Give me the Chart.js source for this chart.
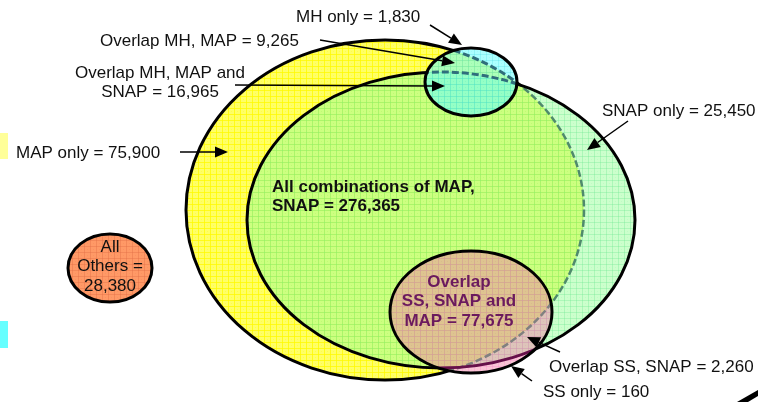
<!DOCTYPE html>
<html>
<head>
<meta charset="utf-8">
<script src="https://cdn.jsdelivr.net/npm/chart.js@4.4.1/dist/chart.umd.min.js"></script>
<style>
  body { margin: 0; background: #fff; }
  canvas { display: block; }
</style>
</head>
<body>
<canvas id="venn" width="758" height="402"></canvas>
<script>
// sets and region counts
var sets = ['MAP', 'SNAP', 'MH', 'SS', 'All Others'];
var regionNames = ['MH only', 'Overlap MH, MAP', 'Overlap MH, MAP and SNAP', 'MAP only', 'SNAP only',
  'All combinations of MAP, SNAP', 'All Others', 'Overlap SS, SNAP and MAP', 'Overlap SS, SNAP', 'SS only'];
var regionCounts = [1830, 9265, 16965, 75900, 25450, 276365, 28380, 77675, 2260, 160];

// layout of the ellipses (data units of the hidden scales)
var shapes = {
  'MAP':        { x: 385, y: 210, rx: 199, ry: 170 },
  'SNAP':       { x: 441, y: 220, rx: 194, ry: 148 },
  'MH':         { x: 471, y: 82,  rx: 46,  ry: 34 },
  'SS':         { x: 471, y: 312, rx: 81,  ry: 61 },
  'All Others': { x: 110, y: 268, rx: 42,  ry: 34 }
};
var looks = {
  'MAP':        { fill: '#ffff66', grid: 'rgba(255,250,0,0.75)' },
  'SNAP':       { fill: 'rgba(153,255,153,0.5)', grid: 'rgba(100,230,140,0.3)' },
  'MH':         { fill: 'rgba(102,255,255,0.55)', grid: 'rgba(60,210,220,0.25)' },
  'SS':         { fill: 'rgba(245,125,165,0.45)', grid: 'rgba(255,100,200,0.2)' },
  'All Others': { fill: '#ff9966', grid: 'rgba(225,110,70,0.4)' }
};
// text placement for each region label: first line centre, alignment, words per line
var labelPos = [
  { x: 296, y: 17,  align: 'left',   lines: [4] },
  { x: 100, y: 41,  align: 'left',   lines: [6] },
  { x: 160, y: 73,  align: 'center', lines: [4, 3] },
  { x: 16,  y: 153, align: 'left',   lines: [5] },
  { x: 602, y: 111, align: 'left',   lines: [5] },
  { x: 272, y: 187, align: 'left',   lines: [4, 3], bold: true },
  { x: 110, y: 247, align: 'center', lines: [1, 2, 1] },
  { x: 459, y: 282, align: 'center', lines: [1, 3, 3], bold: true, color: '#6b1a5e' },
  { x: 549, y: 367, align: 'left',   lines: [6] },
  { x: 543, y: 392, align: 'left',   lines: [5] }
];
var arrows = [
  [430, 25, 462, 45],
  [320, 40, 455, 63],
  [235, 85, 445, 86],
  [180, 152, 228, 152],
  [628, 121, 587, 150],
  null,
  null,
  null,
  [560, 352, 527, 337],
  [532, 381, 511, 366]
];

function gridPattern(color) {
  var c = document.createElement('canvas');
  c.width = 6; c.height = 6;
  var g = c.getContext('2d');
  g.fillStyle = color;
  g.fillRect(0, 0, 6, 1);
  g.fillRect(0, 0, 1, 6);
  g.globalAlpha = 0.4;
  g.fillRect(3, 3, 1, 1);
  return c;
}

var vennPlugin = {
  id: 'venn',
  beforeDatasetsDraw: function (chart) {
    var ctx = chart.ctx;
    var xs = chart.scales.x, ys = chart.scales.y;
    var E = {};
    sets.forEach(function (s, i) {
      var p = chart.getDatasetMeta(i).data[0];
      var sh = shapes[s];
      E[s] = {
        x: p.x, y: p.y,
        rx: Math.abs(xs.getPixelForValue(sh.x + sh.rx) - p.x),
        ry: Math.abs(ys.getPixelForValue(sh.y + sh.ry) - p.y)
      };
    });
    function path(s) {
      var e = E[s];
      ctx.beginPath();
      ctx.ellipse(e.x, e.y, e.rx, e.ry, 0, 0, Math.PI * 2);
    }
    function fillSet(s) {
      path(s);
      ctx.fillStyle = looks[s].fill;
      ctx.fill();
      ctx.fillStyle = ctx.createPattern(gridPattern(looks[s].grid), 'repeat');
      ctx.fill();
    }
    function strokeSet(s, color, w, dash) {
      path(s);
      ctx.strokeStyle = color;
      ctx.lineWidth = w;
      ctx.setLineDash(dash || []);
      ctx.stroke();
      ctx.setLineDash([]);
    }
    function clipTo(s) {
      ctx.save();
      path(s);
      ctx.clip();
      ctx.fillStyle = '#fff';
      ctx.fillRect(0, 0, chart.width, chart.height);
    }

    ctx.save();
    fillSet('MAP');
    strokeSet('MAP', '#000', 3);

    clipTo('SNAP');
    fillSet('MAP');
    fillSet('SNAP');
    strokeSet('MAP', '#4f8a6c', 2.5, [7, 3]);
    ctx.restore();
    strokeSet('SNAP', '#000', 3);

    clipTo('MH');
    fillSet('MAP');
    fillSet('SNAP');
    fillSet('MH');
    strokeSet('MAP', '#2f6e7c', 3, [7, 3]);
    strokeSet('SNAP', '#2f6e7c', 3, [7, 3]);
    ctx.restore();
    strokeSet('MH', '#000', 3);

    clipTo('SS');
    fillSet('MAP');
    fillSet('SNAP');
    fillSet('SS');
    strokeSet('MAP', '#808080', 2.5, [7, 3]);
    strokeSet('SNAP', '#66104a', 3);
    ctx.restore();
    strokeSet('SS', '#000', 3);

    fillSet('All Others');
    strokeSet('All Others', '#000', 3);

    // small colour keys at the left edge and the stray stroke at bottom right
    ctx.fillStyle = '#ffff99';
    ctx.fillRect(0, 133, 8, 26);
    ctx.fillStyle = '#66ffff';
    ctx.fillRect(0, 321, 8, 27);
    ctx.fillStyle = '#000';
    ctx.beginPath();
    ctx.moveTo(737, 402); ctx.lineTo(758, 390); ctx.lineTo(758, 396); ctx.lineTo(748, 402);
    ctx.closePath(); ctx.fill();

    // arrows
    arrows.forEach(function (a) {
      if (!a) return;
      var x1 = xs.getPixelForValue(a[0]), y1 = ys.getPixelForValue(a[1]);
      var x2 = xs.getPixelForValue(a[2]), y2 = ys.getPixelForValue(a[3]);
      var ang = Math.atan2(y2 - y1, x2 - x1);
      var L = 13, W = 5.5;
      var bx = x2 - L * Math.cos(ang), by = y2 - L * Math.sin(ang);
      ctx.strokeStyle = '#000';
      ctx.lineWidth = 1.5;
      ctx.beginPath();
      ctx.moveTo(x1, y1); ctx.lineTo(bx, by);
      ctx.stroke();
      ctx.fillStyle = '#000';
      ctx.beginPath();
      ctx.moveTo(x2, y2);
      ctx.lineTo(bx + W * Math.sin(ang), by - W * Math.cos(ang));
      ctx.lineTo(bx - W * Math.sin(ang), by + W * Math.cos(ang));
      ctx.closePath();
      ctx.fill();
    });

    // labels
    regionNames.forEach(function (name, i) {
      var lp = labelPos[i];
      var words = (name + ' = ' + regionCounts[i].toLocaleString('en-US')).split(' ');
      ctx.font = (lp.bold ? 'bold ' : '') + '17px "Liberation Sans", Arial, sans-serif';
      ctx.fillStyle = lp.color || '#111';
      ctx.textAlign = lp.align;
      ctx.textBaseline = 'middle';
      var k = 0;
      lp.lines.forEach(function (n, j) {
        var line = words.slice(k, k + n).join(' ');
        k += n;
        ctx.fillText(line, xs.getPixelForValue(lp.x), ys.getPixelForValue(lp.y + j * 19.5));
      });
    });
    ctx.restore();
  }
};

var venn = document.getElementById('venn').getContext('2d');
var chart = new Chart(venn, {
  type: 'scatter',
  data: {
    datasets: sets.map(function (s) {
      return { label: s, data: [{ x: shapes[s].x, y: shapes[s].y }], pointRadius: 0, pointHoverRadius: 0 };
    })
  },
  options: {
    responsive: false,
    animation: false,
    devicePixelRatio: 1,
    events: [],
    layout: { padding: 0 },
    scales: {
      x: { type: 'linear', min: 0, max: 758, display: false },
      y: { type: 'linear', min: 0, max: 402, reverse: true, display: false }
    },
    plugins: { legend: { display: false }, tooltip: { enabled: false } }
  },
  plugins: [vennPlugin]
});
</script>
</body>
</html>
